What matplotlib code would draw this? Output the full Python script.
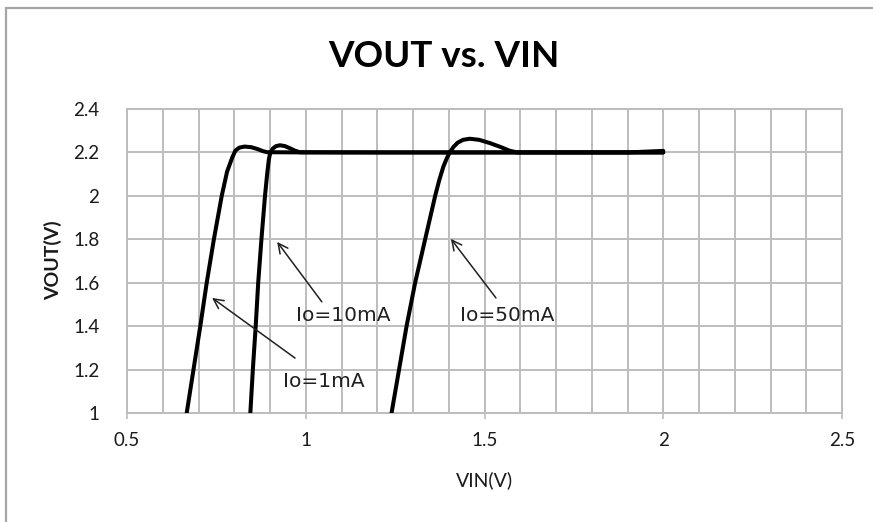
import matplotlib
matplotlib.use("Agg")
import matplotlib.pyplot as plt
from matplotlib.patches import Rectangle

vin_1ma = [0.667, 0.686, 0.705, 0.723, 0.743, 0.765, 0.780, 0.794, 0.803, 0.814,
           0.829, 0.848, 0.866, 0.880, 0.892, 1.0, 2.0]
vout_1ma = [1.0, 1.2, 1.4, 1.6, 1.8, 2.0, 2.112, 2.175, 2.208, 2.222,
            2.227, 2.224, 2.215, 2.206, 2.201, 2.2, 2.2]

vin_10ma = [0.845, 0.852, 0.860, 0.867, 0.876, 0.886, 0.892, 0.897, 0.901, 0.908,
            0.917, 0.928, 0.942, 0.956, 0.970, 0.983, 1.2, 2.0]
vout_10ma = [1.0, 1.2, 1.4, 1.6, 1.8, 2.0, 2.1, 2.17, 2.2, 2.218,
             2.229, 2.233, 2.229, 2.219, 2.208, 2.201, 2.2, 2.2]

vin_50ma = [1.240, 1.261, 1.282, 1.306, 1.334, 1.362, 1.373, 1.385, 1.395, 1.403,
            1.413, 1.425, 1.440, 1.459, 1.485, 1.515, 1.545, 1.570, 1.591, 1.8,
            1.9, 2.0]
vout_50ma = [1.0, 1.2, 1.4, 1.6, 1.8, 2.0, 2.07, 2.135, 2.175, 2.20,
             2.225, 2.245, 2.258, 2.263, 2.258, 2.243, 2.225, 2.208, 2.200, 2.2,
             2.2, 2.207]

labels = ["Io=1mA", "Io=10mA", "Io=50mA"]
arrow_heads = [(0.738, 1.530), (0.920, 1.788), (1.406, 1.802)]
arrow_tails = [(0.970, 1.253), (1.045, 1.512), (1.532, 1.530)]
label_pos = [(1.051, 1.143), (1.104, 1.447), (1.563, 1.447)]

x_ticks = [0.5, 1, 1.5, 2, 2.5]
x_ticklabels = ["0.5", "1", "1.5", "2", "2.5"]
y_ticks = [1, 1.2, 1.4, 1.6, 1.8, 2, 2.2, 2.4]
y_ticklabels = ["1", "1.2", "1.4", "1.6", "1.8", "2", "2.2", "2.4"]

grau = "#bdbdbd"

fig = plt.figure(figsize=(8.73, 5.22), dpi=100)
ax = fig.add_axes([0.14548, 0.20881, 0.81901, 0.58238])

# Rahmen um das ganze Diagramm
fig.patches.append(Rectangle((6 / 873, -0.1), 1.2, 1 - 8 / 522 + 0.1,
                             transform=fig.transFigure, fill=False,
                             edgecolor="#a6a6a6", linewidth=1.6))

for x, y in [(vin_1ma, vout_1ma), (vin_10ma, vout_10ma), (vin_50ma, vout_50ma)]:
    ax.plot(x, y, color="black", linewidth=2.9, solid_capstyle="round",
            solid_joinstyle="round", zorder=3)

for lab, head, tail, pos in zip(labels, arrow_heads, arrow_tails, label_pos):
    ax.annotate("", xy=head, xytext=tail,
                arrowprops=dict(arrowstyle="->,head_length=0.7,head_width=0.35",
                                color="#202020", linewidth=1.1, shrinkA=0, shrinkB=0),
                zorder=4)
    ax.text(pos[0], pos[1], lab, ha="center", va="center", fontsize=14.5,
            family="DejaVu Sans", color="#202020", zorder=4)

ax.set_xlim(0.5, 2.5)
ax.set_ylim(1, 2.4)
ax.set_xticks(x_ticks)
ax.set_xticklabels(x_ticklabels)
ax.set_yticks(y_ticks)
ax.set_yticklabels(y_ticklabels)
ax.set_xticks([0.5 + 0.1 * i for i in range(21)], minor=True)
ax.tick_params(axis="x", which="minor", length=0)
ax.tick_params(axis="x", which="major", length=4, width=1.2, color=grau, pad=10)
ax.tick_params(axis="y", length=0, pad=20)
for t in ax.get_xticklabels() + ax.get_yticklabels():
    t.set_family("Lato")
    t.set_fontsize(13.5)
    t.set_color("#1a1a1a")

ax.grid(True, which="both", axis="x", color=grau, linewidth=1.4)
ax.grid(True, which="major", axis="y", color=grau, linewidth=1.4)
ax.set_axisbelow(True)
for s in ax.spines.values():
    s.set_color(grau)
    s.set_linewidth(1.4)

fig.text(0.5086, 1 - 67 / 522, "VOUT vs. VIN", ha="center", va="baseline",
         fontsize=26.5, fontweight="bold", family="Lato")
fig.text(484 / 873, 1 - 480 / 522, "VIN(V)", ha="center", va="center",
         fontsize=14, family="Lato", color="#1a1a1a")
fig.text(53 / 873, 1 - 260 / 522, "VOUT(V)", ha="center", va="center",
         rotation=90, fontsize=14, fontweight="bold", family="Lato", color="#1a1a1a")

fig.savefig("out.png", dpi=100)
